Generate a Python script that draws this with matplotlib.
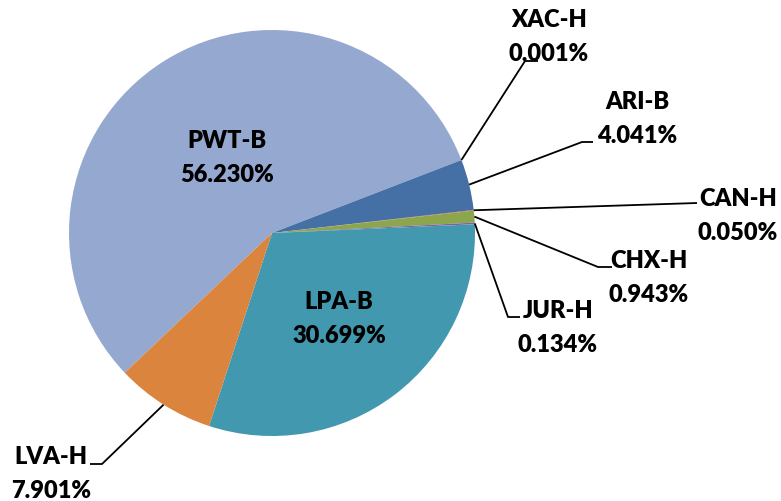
import matplotlib
matplotlib.use("Agg")
import matplotlib.pyplot as plt
import numpy as np

# Data (clockwise order starting from PWT-B)
labels = ["PWT-B", "XAC-H", "ARI-B", "CAN-H", "CHX-H", "JUR-H", "LPA-B", "LVA-H"]
values = [56.230, 0.001, 4.041, 0.050, 0.943, 0.134, 30.699, 7.901]
colors = ["#95A9D0", "#4F81BD", "#4470A6", "#C0504D", "#8CA64E", "#7F63A1", "#4198AF", "#DB843D"]

W, H = 781, 502
fig = plt.figure(figsize=(W / 100, H / 100), dpi=100)
ax = fig.add_axes([0, 0, 1, 1])

cx, cy, R = 272, H - 234, 203
wedges, _ = ax.pie(values, colors=colors, startangle=223.5, counterclock=False,
                   center=(cx, cy), radius=R, frame=True,
                   wedgeprops=dict(linewidth=0))
ax.set_xlim(0, W)
ax.set_ylim(0, H)
ax.set_aspect("equal")
ax.axis("off")

font = dict(family=["Lato", "DejaVu Sans"], fontweight="heavy", fontsize=17, color="black")

def fmt(v):
    return f"{v:.3f}%"

# inside labels (pixel positions in image coords)
inside = {"PWT-B": (227, 158), "LPA-B": (339, 319)}
# outside labels: text center, elbow, end of horizontal segment
outside = {
    "XAC-H": ((549, 37), (525, 62), (538, 62)),
    "ARI-B": ((637, 119), (582, 143), (593, 143)),
    "CAN-H": ((738, 216), (697, 204), (697, 204)),
    "CHX-H": ((649, 278), (598, 268), (612, 268)),
    "JUR-H": ((558, 328), (508, 318), (520, 318)),
    "LVA-H": ((51, 474), (102, 465), (90, 465)),
}

theta = 223.5
for lab, v, w in zip(labels, values, wedges):
    span = v / sum(values) * 360
    mid = np.deg2rad(theta - span / 2)
    theta -= span
    text = f"{lab}\n{fmt(v)}"
    if lab in inside:
        x, y = inside[lab]
        ax.text(x, H - y, text, ha="center", va="center", linespacing=1.65, **font)
    elif lab in outside:
        (tx, ty), (ex, ey), (hx, hy) = outside[lab]
        sx, sy = cx + R * np.cos(mid), cy + R * np.sin(mid)
        ax.plot([sx, ex, hx], [sy, H - ey, H - hy], color="black", lw=1.3,
                solid_capstyle="butt", zorder=5)
        ax.text(tx, H - ty, text, ha="center", va="center", linespacing=1.65, **font)

fig.savefig("out.png", dpi=100)
